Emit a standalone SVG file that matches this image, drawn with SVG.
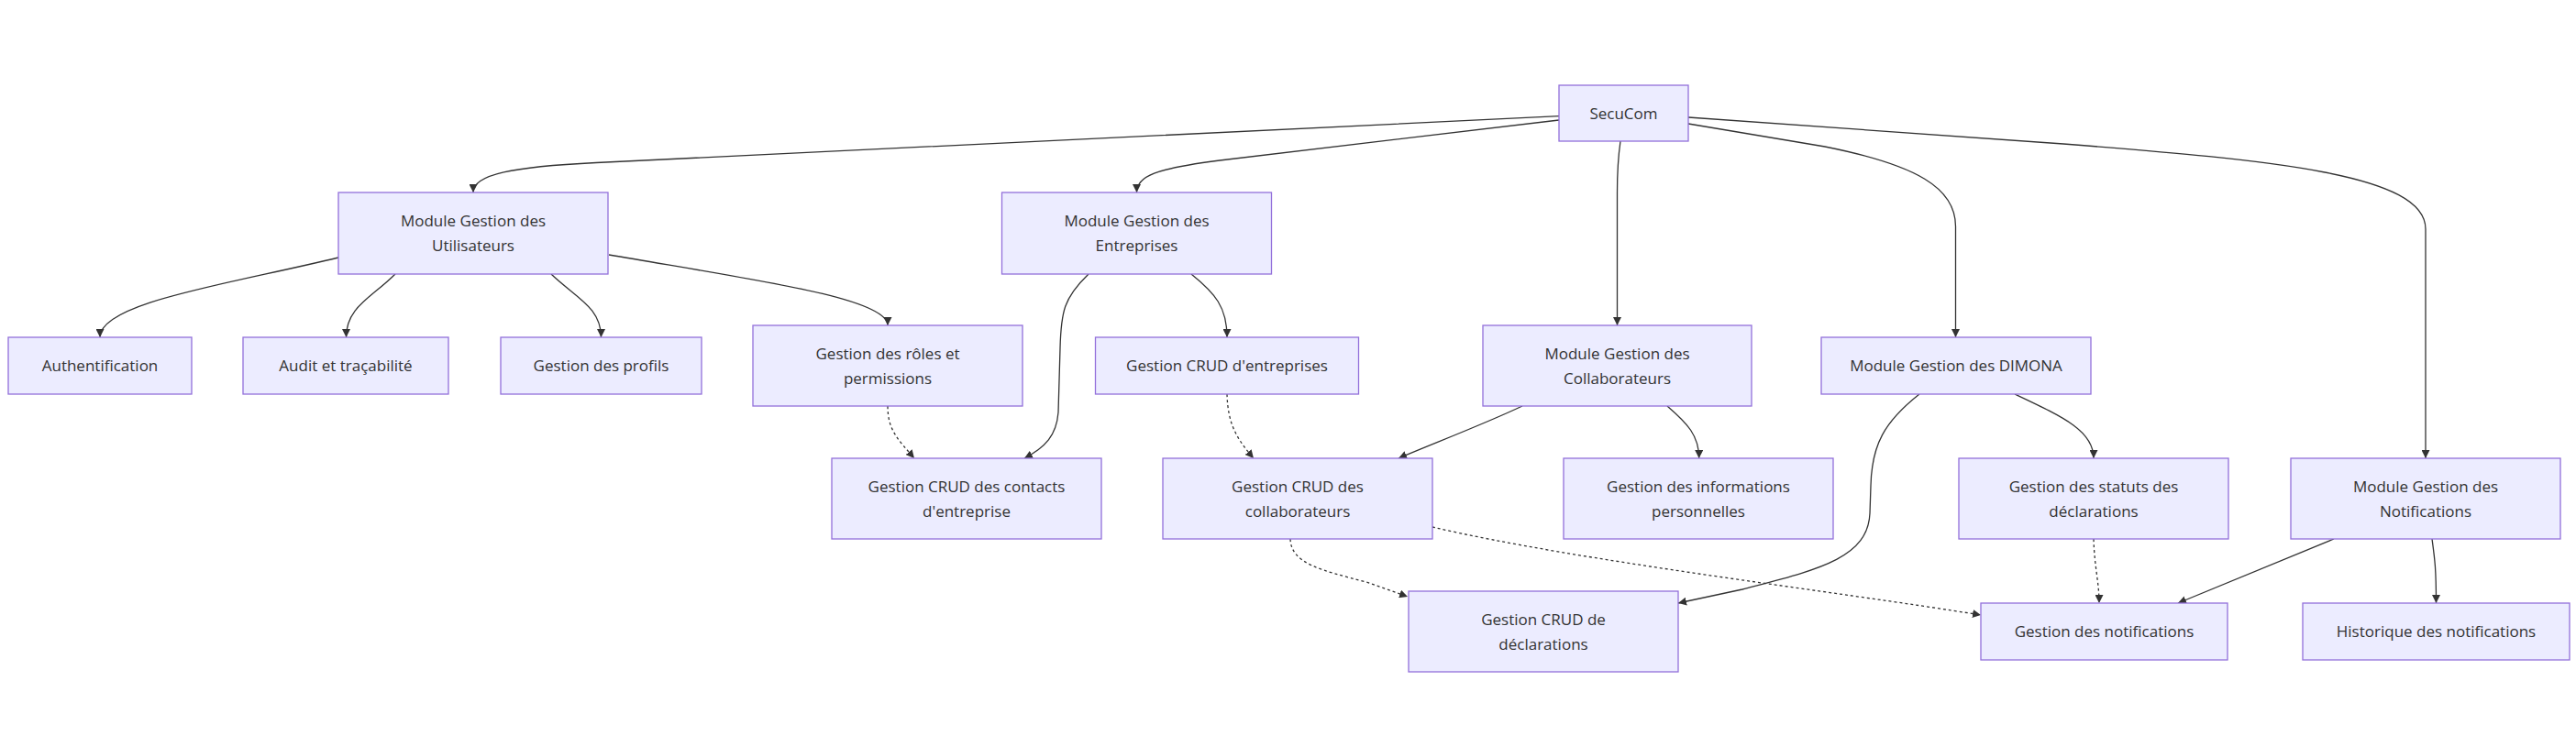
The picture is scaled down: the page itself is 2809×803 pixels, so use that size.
<svg xmlns="http://www.w3.org/2000/svg" width="2809" height="803" viewBox="0 0 2809 803">
<defs>
<style>
.node rect{fill:#ECECFF;stroke:#9370DB;stroke-width:1.3}
.node text{font-family:"Open Sans","Liberation Sans",sans-serif;font-size:17px;fill:#333;text-anchor:middle}
.edge{fill:none;stroke:#333;stroke-width:1.3;marker-end:url(#arrow)}
.dotted{stroke-dasharray:3,3}
</style>
<marker id="arrow" viewBox="0 0 10 10" refX="10" refY="5" markerUnits="userSpaceOnUse" markerWidth="9" markerHeight="9" orient="auto">
<path d="M0,0 L10,5 L0,10 z" fill="#333"/>
</marker>
</defs>
<rect width="2809" height="803" fill="#fff"/>
<g id="connectors">
<path class="edge" d="M1700,126.7 L650,177.5 C560,182 516,190 516,210"/>
<path class="edge" d="M1700,131 L1330,175 C1260,184 1239.5,192 1239.5,210"/>
<path class="edge" d="M1767,154 C1764,175 1763.5,190 1763.5,210 L1763.5,355"/>
<path class="edge" d="M1841,135 L1990,160 C2090,180 2132.5,205 2132.5,247 L2132.5,368"/>
<path class="edge" d="M1841,128 L2250,157 C2480,175 2645,190 2645,250 L2645,500"/>
<path class="edge" d="M369,281 C250,310 109,330 109,368"/>
<path class="edge" d="M431,299 C405,325 377.5,335 377.5,368"/>
<path class="edge" d="M601,299 C628,325 655.5,335 655.5,368"/>
<path class="edge" d="M664,278 C820,305 968,325 968,355"/>
<path class="edge" d="M1299,299 C1325,320 1338,335 1338,368"/>
<path class="edge" d="M1187,299 C1160,325 1157,340 1156,380 L1154,450 C1152,475 1140,488 1117,500"/>
<path class="edge dotted" d="M968,443 C968,470 980,480 997,500"/>
<path class="edge dotted" d="M1338,430 C1339,465 1350,480 1367,500"/>
<path class="edge" d="M1660,443 C1620,462 1560,485 1525,500"/>
<path class="edge" d="M1818,443 C1840,462 1852.7,475 1852.7,500"/>
<path class="edge" d="M2093,430 C2055,460 2041,485 2040,530 L2039,560 C2037,610 1980,622 1900,643 L1830,658"/>
<path class="edge" d="M2197,430 C2250,455 2283,470 2283,500"/>
<path class="edge dotted" d="M1407,588 C1408,615 1440,622 1490,635 L1535,651"/>
<path class="edge dotted" d="M1562,575 C1720,612 2000,645 2160,671"/>
<path class="edge dotted" d="M2283,588 C2284,620 2289,635 2289,658"/>
<path class="edge" d="M2545,588 L2375,658"/>
<path class="edge" d="M2652,588 C2655,610 2656.5,620 2656.5,658"/>
</g>
<g id="secucom" class="node"><rect x="1700" y="93" width="141" height="61"/><text x="1770.5" y="129.5">SecuCom</text></g>
<g id="mod-utilisateurs" class="node"><rect x="369" y="210" width="294" height="89"/><text x="516" y="247">Module Gestion des</text><text x="516" y="274">Utilisateurs</text></g>
<g id="mod-entreprises" class="node"><rect x="1092.5" y="210" width="294" height="89"/><text x="1239.5" y="247">Module Gestion des</text><text x="1239.5" y="274">Entreprises</text></g>
<g id="mod-collaborateurs" class="node"><rect x="1617" y="355" width="293" height="88"/><text x="1763.5" y="391.5">Module Gestion des</text><text x="1763.5" y="418.5">Collaborateurs</text></g>
<g id="mod-dimona" class="node"><rect x="1986" y="368" width="294" height="62"/><text x="2133" y="405">Module Gestion des DIMONA</text></g>
<g id="mod-notifications" class="node"><rect x="2498" y="500" width="294" height="88"/><text x="2645" y="536.5">Module Gestion des</text><text x="2645" y="563.5">Notifications</text></g>
<g id="authentification" class="node"><rect x="9" y="368" width="200" height="62"/><text x="109" y="405">Authentification</text></g>
<g id="audit" class="node"><rect x="265" y="368" width="224" height="62"/><text x="377" y="405">Audit et traçabilité</text></g>
<g id="profils" class="node"><rect x="546" y="368" width="219" height="62"/><text x="655.5" y="405">Gestion des profils</text></g>
<g id="roles" class="node"><rect x="821" y="355" width="294" height="88"/><text x="968" y="391.5">Gestion des rôles et</text><text x="968" y="418.5">permissions</text></g>
<g id="crud-entreprises" class="node"><rect x="1194.5" y="368" width="287" height="62"/><text x="1338" y="405">Gestion CRUD d'entreprises</text></g>
<g id="crud-contacts" class="node"><rect x="907" y="500" width="294" height="88"/><text x="1054" y="536.5">Gestion CRUD des contacts</text><text x="1054" y="563.5">d'entreprise</text></g>
<g id="crud-collaborateurs" class="node"><rect x="1268" y="500" width="294" height="88"/><text x="1415" y="536.5">Gestion CRUD des</text><text x="1415" y="563.5">collaborateurs</text></g>
<g id="infos-personnelles" class="node"><rect x="1705" y="500" width="294" height="88"/><text x="1852" y="536.5">Gestion des informations</text><text x="1852" y="563.5">personnelles</text></g>
<g id="statuts" class="node"><rect x="2136" y="500" width="294" height="88"/><text x="2283" y="536.5">Gestion des statuts des</text><text x="2283" y="563.5">déclarations</text></g>
<g id="crud-declarations" class="node"><rect x="1536" y="645" width="294" height="88"/><text x="1683" y="681.5">Gestion CRUD de</text><text x="1683" y="708.5">déclarations</text></g>
<g id="gestion-notifications" class="node"><rect x="2160" y="658" width="269" height="62"/><text x="2294.5" y="695">Gestion des notifications</text></g>
<g id="historique" class="node"><rect x="2511" y="658" width="291" height="62"/><text x="2656.5" y="695">Historique des notifications</text></g>
</svg>
